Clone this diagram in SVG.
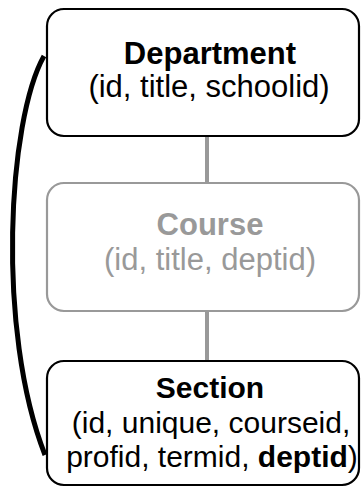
<svg xmlns="http://www.w3.org/2000/svg" width="361" height="487" viewBox="0 0 361 487">
<style>
.box{fill:#fff;stroke-width:2.2}
.dark{stroke:#000}
.grey{stroke:#999}
text{font-family:"Liberation Sans",Arial,sans-serif;font-size:31px;text-anchor:middle}
.s{font-size:30px}
.b{font-weight:bold}
.tg{fill:#999}
.tk{fill:#000}
</style>
<rect width="361" height="487" fill="#fff"/>
<g id="connectors">
<line x1="207" y1="136" x2="207" y2="183" stroke="#999" stroke-width="4"/>
<line x1="207" y1="311" x2="207" y2="361" stroke="#999" stroke-width="4"/>
<path d="M44,56 C8,120 -4,330 45,455" fill="none" stroke="#000" stroke-width="5"/>
</g>
<g id="department">
<rect class="box dark" x="47" y="9" width="312" height="127" rx="17"/>
<text class="tk b" x="210" y="64">Department</text>
<text class="tk" x="209" y="97">(id, title, schoolid)</text>
</g>
<g id="course">
<rect class="box grey" x="47" y="183" width="312" height="128" rx="17"/>
<text class="tg b" x="210" y="235">Course</text>
<text class="tg" x="210" y="270">(id, title, deptid)</text>
</g>
<g id="section">
<rect class="box dark" x="47" y="361" width="312" height="124" rx="17"/>
<text class="tk b s" x="210" y="398">Section</text>
<text class="tk s" x="211" y="433">(id, unique, courseid,</text>
<text class="tk s" x="212" y="467">profid, termid, <tspan class="b">deptid</tspan>)</text>
</g>
</svg>
